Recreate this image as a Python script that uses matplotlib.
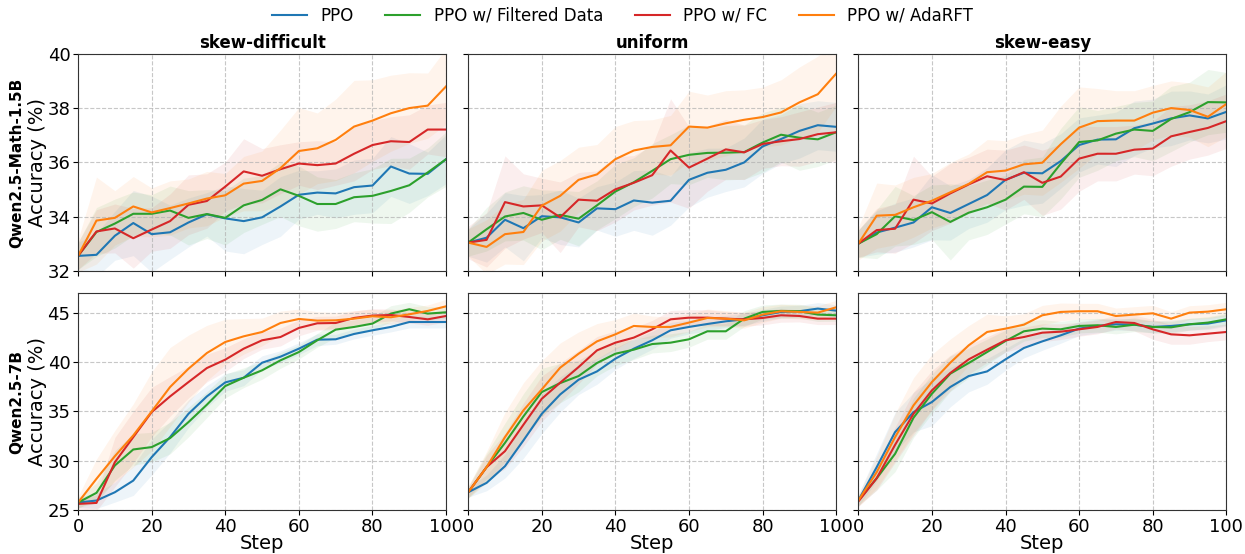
import matplotlib
matplotlib.use("Agg")
import matplotlib.pyplot as plt
import numpy as np

steps = list(range(0, 101, 5))
methods = ["PPO", "PPO w/ Filtered Data", "PPO w/ FC", "PPO w/ AdaRFT"]
colors = ["#1f77b4", "#2ca02c", "#d62728", "#ff7f0e"]
col_titles = ["skew-difficult", "uniform", "skew-easy"]
row_models = ["Qwen2.5-Math-1.5B", "Qwen2.5-7B"]

# ---- Qwen2.5-Math-1.5B ----
m15_sd_ppo = [32.56, 32.6, 33.3, 33.77, 33.36, 33.43, 33.79, 34.09, 33.94, 33.84, 33.98, 34.38, 34.81, 34.89, 34.86, 35.09, 35.15, 35.85, 35.59, 35.58, 36.12]
m15_sd_filt = [32.56, 33.44, 33.75, 34.11, 34.11, 34.23, 33.96, 34.1, 33.96, 34.42, 34.62, 35.01, 34.77, 34.47, 34.47, 34.72, 34.77, 34.95, 35.16, 35.63, 36.12]
m15_sd_fc = [32.56, 33.46, 33.57, 33.21, 33.53, 33.84, 34.44, 34.58, 35.11, 35.67, 35.51, 35.75, 35.96, 35.9, 35.96, 36.32, 36.64, 36.78, 36.75, 37.21, 37.21]
m15_sd_ada = [32.56, 33.86, 33.96, 34.38, 34.16, 34.32, 34.49, 34.67, 34.79, 35.22, 35.32, 35.79, 36.42, 36.52, 36.83, 37.32, 37.54, 37.81, 38.0, 38.09, 38.8]

m15_un_ppo = [33.05, 33.23, 33.89, 33.58, 34.02, 33.98, 33.79, 34.31, 34.28, 34.6, 34.52, 34.59, 35.36, 35.62, 35.73, 36.0, 36.59, 36.86, 37.16, 37.37, 37.31]
m15_un_filt = [33.05, 33.54, 34.01, 34.14, 33.89, 34.07, 33.93, 34.42, 34.93, 35.27, 35.69, 36.12, 36.28, 36.35, 36.36, 36.38, 36.73, 37.02, 36.91, 36.85, 37.11]
m15_un_fc = [33.05, 33.15, 34.54, 34.38, 34.42, 33.98, 34.63, 34.59, 35.01, 35.25, 35.53, 36.44, 35.81, 36.14, 36.48, 36.37, 36.68, 36.78, 36.86, 37.04, 37.11]
m15_un_ada = [33.05, 32.89, 33.36, 33.44, 34.41, 34.77, 35.36, 35.56, 36.12, 36.44, 36.57, 36.63, 37.32, 37.28, 37.44, 37.57, 37.67, 37.84, 38.21, 38.51, 39.27]

m15_se_ppo = [33.01, 33.42, 33.6, 33.79, 34.35, 34.14, 34.47, 34.8, 35.36, 35.62, 35.6, 36.05, 36.64, 36.84, 36.85, 37.26, 37.43, 37.62, 37.73, 37.62, 37.86]
m15_se_filt = [33.01, 33.36, 34.02, 33.88, 34.17, 33.81, 34.15, 34.35, 34.63, 35.11, 35.1, 35.95, 36.75, 36.81, 37.06, 37.21, 37.16, 37.6, 37.85, 38.22, 38.21]
m15_se_fc = [33.01, 33.51, 33.56, 34.63, 34.49, 34.86, 35.19, 35.49, 35.35, 35.64, 35.25, 35.48, 36.14, 36.32, 36.32, 36.47, 36.51, 36.96, 37.12, 37.27, 37.52]
m15_se_ada = [33.01, 34.04, 34.07, 34.35, 34.59, 34.9, 35.21, 35.64, 35.7, 35.93, 35.99, 36.67, 37.28, 37.52, 37.54, 37.54, 37.83, 38.0, 37.93, 37.68, 38.15]

# ---- Qwen2.5-7B ----
m7_sd_ppo = [25.78, 25.98, 26.82, 28.0, 30.37, 32.4, 34.76, 36.52, 37.94, 38.41, 39.93, 40.54, 41.35, 42.26, 42.3, 42.84, 43.21, 43.55, 44.05, 44.05, 44.05]
m7_sd_filt = [25.78, 26.76, 29.53, 31.15, 31.39, 32.3, 33.92, 35.68, 37.57, 38.41, 39.16, 40.17, 41.01, 42.2, 43.28, 43.55, 43.89, 44.9, 45.34, 44.9, 45.03]
m7_sd_fc = [25.64, 25.74, 29.86, 32.4, 34.93, 36.52, 37.97, 39.39, 40.24, 41.35, 42.2, 42.53, 43.45, 43.92, 43.95, 44.46, 44.7, 44.76, 44.56, 44.32, 44.66]
m7_sd_ada = [25.78, 28.18, 30.47, 32.57, 35.0, 37.47, 39.32, 40.91, 42.03, 42.6, 43.04, 43.95, 44.36, 44.19, 44.22, 44.39, 44.63, 44.53, 44.83, 45.17, 45.64]

m7_un_ppo = [26.82, 27.77, 29.46, 32.06, 34.76, 36.72, 38.21, 39.05, 40.34, 41.35, 42.2, 43.21, 43.55, 43.85, 44.12, 44.32, 44.73, 45.07, 45.14, 45.41, 45.2]
m7_un_filt = [26.82, 29.36, 31.82, 34.49, 36.96, 37.87, 38.58, 39.9, 40.84, 41.25, 41.82, 41.96, 42.3, 43.11, 43.11, 44.39, 45.07, 45.17, 45.14, 44.8, 44.73]
m7_un_fc = [26.82, 29.36, 30.98, 33.65, 36.28, 37.91, 39.49, 41.18, 41.96, 42.47, 43.31, 44.32, 44.49, 44.49, 44.39, 44.32, 44.46, 44.73, 44.66, 44.39, 44.39]
m7_un_ada = [26.82, 29.36, 32.4, 35.1, 37.23, 39.43, 40.84, 42.09, 42.8, 43.65, 43.55, 43.55, 43.99, 44.46, 44.39, 44.22, 44.8, 45.14, 45.07, 45.0, 45.54]

m7_se_ppo = [25.98, 29.36, 32.91, 34.93, 35.95, 37.47, 38.58, 39.05, 40.27, 41.42, 42.09, 42.7, 43.38, 43.65, 43.82, 43.78, 43.55, 43.65, 43.82, 43.89, 44.22]
m7_se_filt = [25.98, 28.24, 30.71, 34.36, 36.79, 38.82, 39.9, 41.01, 42.13, 43.11, 43.38, 43.31, 43.65, 43.72, 43.55, 43.78, 43.55, 43.51, 43.82, 43.99, 44.32]
m7_se_fc = [25.88, 28.24, 31.62, 34.76, 37.13, 38.89, 40.27, 41.25, 42.2, 42.53, 42.97, 43.07, 43.31, 43.55, 44.05, 43.95, 43.31, 42.8, 42.7, 42.87, 43.04]
m7_se_ada = [25.98, 28.85, 32.4, 35.61, 37.97, 39.93, 41.69, 43.04, 43.38, 43.78, 44.73, 45.07, 45.14, 45.14, 44.66, 44.8, 44.93, 44.39, 45.0, 45.1, 45.34]

# ---- band half-widths (read approximately) ----
m15_sd_std = [
    [0.5, 0.8, 0.9, 1.2, 1.4, 1.0, 0.9, 0.8, 1.2, 1.2, 1.0, 1.1, 0.9, 0.8, 0.9, 1.0, 1.0, 1.1, 1.1, 0.8, 0.9],
    [0.5, 0.9, 0.9, 0.8, 0.7, 0.9, 1.0, 0.9, 1.0, 1.0, 0.9, 1.0, 1.1, 1.0, 0.9, 0.9, 1.0, 1.2, 1.0, 0.9, 1.0],
    [0.5, 0.8, 0.9, 1.1, 0.8, 1.0, 1.1, 1.0, 0.9, 1.2, 1.0, 0.9, 0.8, 0.9, 0.8, 1.0, 0.9, 0.9, 1.0, 0.9, 1.0],
    [0.6, 1.6, 1.0, 1.1, 0.9, 1.0, 0.9, 1.0, 0.8, 1.0, 1.1, 1.4, 1.6, 1.3, 1.5, 1.7, 1.5, 1.4, 1.3, 1.2, 1.4],
]
m15_un_std = [
    [0.5, 0.9, 1.0, 1.2, 0.8, 1.0, 0.9, 0.8, 1.0, 1.1, 1.2, 0.9, 1.0, 0.9, 0.8, 0.9, 1.0, 0.9, 1.0, 0.9, 0.9],
    [0.5, 0.8, 0.9, 1.0, 1.1, 0.9, 1.0, 0.9, 1.0, 0.9, 1.0, 0.9, 1.1, 0.9, 1.0, 1.0, 1.1, 1.0, 1.2, 1.0, 1.0],
    [0.6, 1.0, 1.7, 1.2, 1.0, 1.3, 1.0, 1.1, 1.2, 1.0, 1.1, 1.9, 1.5, 1.2, 1.1, 1.0, 0.9, 0.9, 1.0, 1.0, 1.1],
    [0.5, 1.0, 1.1, 1.2, 1.3, 1.3, 1.2, 1.1, 1.2, 1.1, 1.0, 1.1, 1.3, 1.2, 1.2, 1.1, 1.1, 1.2, 1.3, 1.4, 1.2],
]
m15_se_std = [
    [0.5, 0.8, 0.9, 0.9, 1.2, 1.0, 0.9, 1.0, 1.1, 1.2, 1.1, 1.0, 1.0, 0.9, 1.0, 1.0, 0.9, 1.0, 0.9, 0.9, 1.0],
    [0.5, 0.9, 1.1, 0.9, 1.0, 1.4, 1.0, 1.0, 0.9, 1.0, 1.1, 1.3, 1.3, 1.1, 1.0, 1.0, 1.1, 1.2, 1.1, 1.2, 1.1],
    [0.5, 0.8, 0.9, 1.6, 1.0, 1.1, 1.0, 1.0, 1.1, 1.0, 1.2, 1.2, 1.2, 1.0, 1.0, 0.9, 1.0, 1.1, 1.0, 1.0, 1.0],
    [0.6, 1.2, 1.1, 1.1, 1.0, 1.1, 1.1, 1.2, 1.1, 1.1, 1.2, 1.4, 1.5, 1.2, 1.1, 1.1, 1.0, 1.0, 1.0, 1.1, 1.2],
]
m7_sd_std = [
    [0.5, 0.8, 1.0, 1.5, 1.8, 1.6, 1.4, 1.1, 0.9, 0.8, 0.7, 0.6, 0.6, 0.6, 0.5, 0.5, 0.5, 0.5, 0.6, 0.6, 0.6],
    [0.5, 1.0, 1.5, 1.6, 1.5, 1.6, 1.5, 1.3, 1.2, 1.0, 0.9, 0.8, 0.7, 0.7, 0.8, 0.7, 0.7, 0.8, 0.7, 0.7, 0.6],
    [0.5, 0.8, 2.5, 2.6, 2.5, 2.0, 1.6, 1.4, 1.2, 1.0, 0.9, 0.9, 0.8, 0.7, 0.7, 0.7, 0.7, 0.6, 0.6, 0.6, 0.6],
    [0.6, 2.0, 2.6, 3.2, 4.0, 4.0, 3.4, 2.8, 2.3, 1.8, 1.4, 1.2, 1.0, 0.9, 0.8, 0.8, 0.7, 0.7, 0.7, 0.6, 0.7],
]
m7_un_std = [
    [0.5, 0.8, 1.2, 1.8, 2.0, 1.8, 1.5, 1.3, 1.1, 1.0, 0.9, 0.8, 0.7, 0.7, 0.6, 0.6, 0.6, 0.6, 0.6, 0.6, 0.6],
    [0.6, 1.4, 2.0, 2.3, 2.4, 2.0, 1.6, 1.3, 1.2, 1.0, 0.9, 0.9, 0.8, 0.8, 0.8, 0.8, 0.7, 0.7, 0.7, 0.7, 0.6],
    [0.5, 1.2, 1.8, 2.2, 2.3, 2.0, 1.7, 1.4, 1.2, 1.0, 0.9, 0.9, 0.8, 0.8, 0.7, 0.7, 0.7, 0.7, 0.6, 0.6, 0.6],
    [0.6, 1.6, 2.5, 2.8, 2.9, 2.5, 2.2, 1.8, 1.5, 1.3, 1.1, 1.0, 0.9, 0.9, 0.8, 0.8, 0.8, 0.7, 0.7, 0.7, 0.7],
]
m7_se_std = [
    [0.6, 1.4, 2.0, 2.0, 2.4, 2.0, 1.6, 1.3, 1.1, 1.0, 0.9, 0.8, 0.7, 0.7, 0.6, 0.6, 0.6, 0.6, 0.6, 0.6, 0.6],
    [0.5, 1.2, 1.8, 2.0, 2.0, 1.8, 1.5, 1.3, 1.1, 1.0, 0.9, 0.8, 0.7, 0.7, 0.7, 0.7, 0.6, 0.6, 0.6, 0.6, 0.6],
    [0.5, 1.2, 1.8, 2.2, 2.0, 1.8, 1.5, 1.3, 1.2, 1.0, 0.9, 0.8, 0.7, 0.7, 0.7, 0.8, 1.0, 1.0, 0.9, 0.8, 0.8],
    [0.6, 1.6, 2.4, 2.8, 2.8, 2.4, 2.0, 1.8, 1.3, 1.1, 1.0, 0.9, 0.8, 0.8, 0.8, 0.8, 0.8, 0.7, 0.7, 0.7, 0.7],
]

panels = [
    [([m15_sd_ppo, m15_sd_filt, m15_sd_fc, m15_sd_ada], m15_sd_std),
     ([m15_un_ppo, m15_un_filt, m15_un_fc, m15_un_ada], m15_un_std),
     ([m15_se_ppo, m15_se_filt, m15_se_fc, m15_se_ada], m15_se_std)],
    [([m7_sd_ppo, m7_sd_filt, m7_sd_fc, m7_sd_ada], m7_sd_std),
     ([m7_un_ppo, m7_un_filt, m7_un_fc, m7_un_ada], m7_un_std),
     ([m7_se_ppo, m7_se_filt, m7_se_fc, m7_se_ada], m7_se_std)],
]
ylims = [(32, 40), (25, 47)]
yticks = [[32, 34, 36, 38, 40], [25, 30, 35, 40, 45]]

fig, axes = plt.subplots(2, 3, figsize=(12.45, 5.54), dpi=100, sharex=True)
fig.subplots_adjust(left=0.0627, right=0.985, top=0.903, bottom=0.079, wspace=0.06, hspace=0.1)

x = np.array(steps)
handles = []
for r in range(2):
    for c in range(3):
        ax = axes[r, c]
        series, stds = panels[r][c]
        for k in range(4):
            y = np.array(series[k])
            s = np.array(stds[k])
            ax.fill_between(x, y - s, y + s, color=colors[k], alpha=0.08, linewidth=0)
            ln, = ax.plot(x, y, color=colors[k], lw=1.5, label=methods[k])
            if r == 0 and c == 0:
                handles.append(ln)
        ax.set_xlim(0, 100)
        ax.set_ylim(*ylims[r])
        ax.set_yticks(yticks[r])
        ax.set_xticks([0, 20, 40, 60, 80, 100])
        ax.grid(True, linestyle="--", color="#b0b0b0", alpha=0.7, linewidth=0.8)
        ax.tick_params(labelsize=13, pad=2)
        for sp in ax.spines.values():
            sp.set_color("#333333")
        if c > 0:
            ax.tick_params(labelleft=False)
        if r == 0:
            ax.set_title(col_titles[c], fontsize=12, fontweight="bold", pad=4)
        if r == 1:
            ax.set_xlabel("Step", fontsize=14, labelpad=-1)
        if c == 0:
            ax.set_ylabel("Accuracy (%)", fontsize=14, labelpad=0)

for r in range(2):
    pos = axes[r, 0].get_position()
    fig.text(0.0135, (pos.y0 + pos.y1) / 2, row_models[r], rotation=90,
             fontsize=11, fontweight="bold", ha="center", va="center")

fig.legend(handles, methods, loc="center", ncol=4, frameon=False,
           fontsize=12, bbox_to_anchor=(0.5, 0.972), columnspacing=1.9,
           handlelength=2.1, handletextpad=0.8)

fig.savefig("out.png", dpi=100)
